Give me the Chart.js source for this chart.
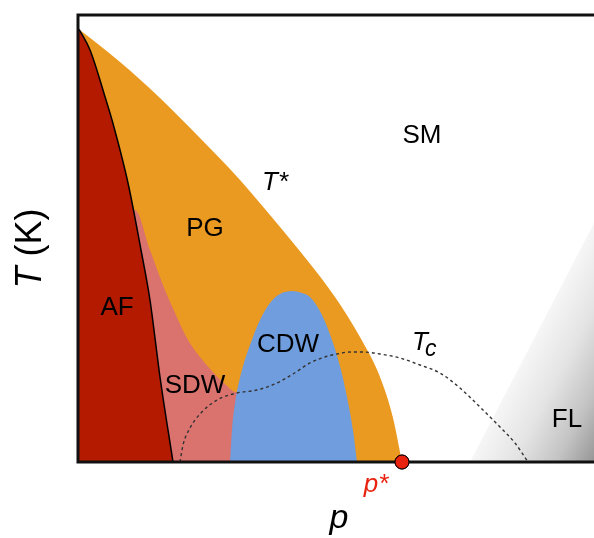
<!DOCTYPE html>
<html>
<head>
<meta charset="utf-8">
<script src="https://cdn.jsdelivr.net/npm/chart.js@4.4.1/dist/chart.umd.min.js"></script>
<style>
html,body{margin:0;padding:0;background:#fff;}
canvas{display:block;}
</style>
</head>
<body>
<canvas id="c" width="594" height="538"></canvas>
<script>
// ---- data (doping p, temperature T, arbitrary units 0..100) ----
const tStarP = [0.2, 8.14, 15.89, 23.64, 31.40, 38.18, 44.38, 49.81, 54.65, 58.53, 61.05, 62.79];
const tStarT = [96.8, 89.48, 81.43, 72.48, 63.09, 53.91, 45.19, 36.91, 27.96, 19.02, 9.84, 0];

const afP = [0.2, 2.33, 5.43, 6.59, 9.69, 12.21, 13.95, 15.89, 18.41];
const afT = [96.8, 92.17, 80.98, 76.51, 62.42, 47.43, 36.24, 19.02, 0];

const sdwP = [0, 11.05, 13.95, 16.47, 18.80, 21.32, 23.64, 25.78, 28.49, 30.62, 33.33, 33.34];
const sdwT = [56.38, 56.38, 47.43, 39.60, 33.33, 27.29, 23.49, 20.58, 17.45, 15.66, 14.99, 0];

const cdwP = [29.46, 29.84, 30.43, 31.78, 33.91, 35.27, 37.21, 39.15, 41.47, 43.41, 44.96, 47.29, 49.42, 50.97, 52.13, 53.29, 54.07];
const cdwT = [0, 7.16, 13.20, 20.58, 27.96, 31.77, 35.57, 37.58, 38.26, 37.81, 36.91, 32.89, 26.62, 20.58, 14.54, 7.16, 0];

const tcP = [19.77, 20.35, 21.71, 23.64, 26.94, 30.81, 34.69, 38.57, 41.67, 44.96, 47.87, 50.19, 52.71, 55.23, 58.53, 62.40, 66.28, 70.16, 74.03, 77.91, 81.78, 84.69, 87.21];
const tcT = [0, 3.80, 7.61, 10.74, 13.87, 15.44, 16.11, 17.67, 19.69, 22.15, 23.49, 24.16, 24.61, 24.61, 24.16, 23.27, 21.70, 19.91, 16.55, 12.30, 7.83, 4.25, 0];

const flP = [75.97, 100];
const flT = [0, 53.47];

const pStarP = [62.79];
const pStarT = [0];

// region labels (text and anchor in data units)
const regionNames = ['SM', 'PG', 'AF', 'CDW', 'SDW', 'FL'];
const regionP = [66.67, 24.61, 7.56, 40.70, 22.67, 94.77];
const regionT = [72.93, 52.12, 34.45, 26.17, 17.00, 9.40];

const pts = (xs, ys) => xs.map((x, i) => ({x: x, y: ys[i]}));

const COLORS = {
  af: '#b31a00', pg: '#eb9a21', sdw: '#da726e', cdw: '#6f9ddd', red: '#e8220f'
};

function flGradient(ctx) {
  const chart = ctx.chart;
  if (!chart.chartArea) return '#ddd';
  const xs = chart.scales.x, ys = chart.scales.y;
  const x0 = xs.getPixelForValue(flP[0]), y0 = ys.getPixelForValue(flT[0]);
  const x1 = xs.getPixelForValue(flP[1]), y1 = ys.getPixelForValue(flT[1]);
  const dx = x1 - x0, dy = y1 - y0, len = Math.hypot(dx, dy);
  const nx = -dy / len, ny = dx / len; // normal into region
  const mx = (x0 + x1) / 2, my = (y0 + y1) / 2;
  const corner = {x: xs.getPixelForValue(100), y: ys.getPixelForValue(0)};
  const dist = Math.abs((corner.x - x0) * nx + (corner.y - y0) * ny);
  const g = chart.ctx.createLinearGradient(mx, my, mx + nx * dist, my + ny * dist);
  g.addColorStop(0, '#f5f6f5');
  g.addColorStop(0.35, '#e4e4e4');
  g.addColorStop(0.7, '#c3c3c3');
  g.addColorStop(1, '#969696');
  return g;
}

const overlay = {
  id: 'overlay',
  afterDatasetsDraw(chart) {
    const c = chart.ctx, a = chart.chartArea;
    const xs = chart.scales.x, ys = chart.scales.y;
    c.save();
    // frame
    c.strokeStyle = '#111';
    c.lineWidth = 3;
    c.beginPath();
    c.moveTo(a.right + 2, a.top);
    c.lineTo(a.left, a.top);
    c.lineTo(a.left, a.bottom);
    c.lineTo(a.right + 2, a.bottom);
    c.stroke();
    // redraw p* point above the frame
    const meta = chart.getDatasetMeta(0);
    meta.data.forEach(el => el.draw(c));
    // region labels
    c.fillStyle = '#000';
    c.font = '26px "Liberation Sans", Arial, sans-serif';
    c.textAlign = 'center';
    c.textBaseline = 'middle';
    regionNames.forEach((t, i) => {
      c.fillText(t, xs.getPixelForValue(regionP[i]), ys.getPixelForValue(regionT[i]));
    });
    // T* label
    c.textAlign = 'left';
    c.textBaseline = 'alphabetic';
    c.font = 'italic 26px "Liberation Sans", Arial, sans-serif';
    let tx = xs.getPixelForValue(35.66), ty = ys.getPixelForValue(60.85);
    c.fillText('T*', tx, ty);
    // Tc label
    tx = xs.getPixelForValue(64.73); ty = ys.getPixelForValue(25.06);
    c.fillText('T', tx, ty);
    const tw = c.measureText('T').width;
    c.font = 'italic 23px "Liberation Sans", Arial, sans-serif';
    c.fillText('c', tx + tw - 3, ty + 6);
    // p* label
    const dotX = xs.getPixelForValue(pStarP[0]);
    c.fillStyle = COLORS.red;
    c.font = 'italic 26px "Liberation Sans", Arial, sans-serif';
    c.textAlign = 'center';
    c.fillText('p*', dotX - 26, a.bottom + 30);
    // x title
    c.fillStyle = '#000';
    c.font = 'italic 34px "Liberation Sans", Arial, sans-serif';
    c.fillText('p', xs.getPixelForValue(50.58), a.bottom + 66);
    // y title
    c.translate(a.left - 47, (a.top + a.bottom) / 2 + 10);
    c.rotate(-Math.PI / 2);
    c.textAlign = 'left';
    c.textBaseline = 'middle';
    c.font = 'italic 36px "Liberation Sans", Arial, sans-serif';
    const w1 = c.measureText('T').width;
    c.font = '36px "Liberation Sans", Arial, sans-serif';
    const w2 = c.measureText(' (K)').width;
    const start = -(w1 + w2) / 2;
    c.font = 'italic 36px "Liberation Sans", Arial, sans-serif';
    c.fillText('T', start, 0);
    c.font = '36px "Liberation Sans", Arial, sans-serif';
    c.fillText(' (K)', start + w1, 0);
    c.restore();
  }
};

new Chart(document.getElementById('c'), {
  type: 'scatter',
  data: {
    datasets: [
      { label: 'p*', data: pts(pStarP, pStarT), showLine: false, pointRadius: 7,
        pointBackgroundColor: COLORS.red, pointBorderColor: '#000', pointBorderWidth: 1, clip: false },
      { label: 'Tc', data: pts(tcP, tcT), showLine: true, borderColor: '#333', borderWidth: 1.4,
        borderDash: [3, 3], pointRadius: 0, fill: false, cubicInterpolationMode: 'monotone' },
      { label: 'AF', data: pts(afP, afT), showLine: true, borderColor: '#000', borderWidth: 1.5,
        backgroundColor: COLORS.af, fill: 'origin', pointRadius: 0, cubicInterpolationMode: 'monotone' },
      { label: 'CDW', data: pts(cdwP, cdwT), showLine: true, borderWidth: 0, borderColor: 'rgba(0,0,0,0)',
        backgroundColor: COLORS.cdw, fill: 'origin', pointRadius: 0, cubicInterpolationMode: 'monotone' },
      { label: 'SDW', data: pts(sdwP, sdwT), showLine: true, borderWidth: 0, borderColor: 'rgba(0,0,0,0)',
        backgroundColor: COLORS.sdw, fill: 'origin', pointRadius: 0, cubicInterpolationMode: 'monotone' },
      { label: 'PG', data: pts(tStarP, tStarT), showLine: true, borderWidth: 0, borderColor: 'rgba(0,0,0,0)',
        backgroundColor: COLORS.pg, fill: 'origin', pointRadius: 0, cubicInterpolationMode: 'monotone' },
      { label: 'FL', data: pts(flP, flT), showLine: true, borderWidth: 0, borderColor: 'rgba(0,0,0,0)',
        backgroundColor: flGradient, fill: 'origin', pointRadius: 0 }
    ]
  },
  options: {
    responsive: false,
    animation: false,
    devicePixelRatio: 1,
    layout: { autoPadding: false, padding: { left: 78, top: 15, right: 0, bottom: 76 } },
    plugins: { legend: { display: false }, tooltip: { enabled: false } },
    scales: {
      x: { type: 'linear', min: 0, max: 100, display: false },
      y: { type: 'linear', min: 0, max: 100, display: false }
    }
  },
  plugins: [overlay]
});
</script>
</body>
</html>
